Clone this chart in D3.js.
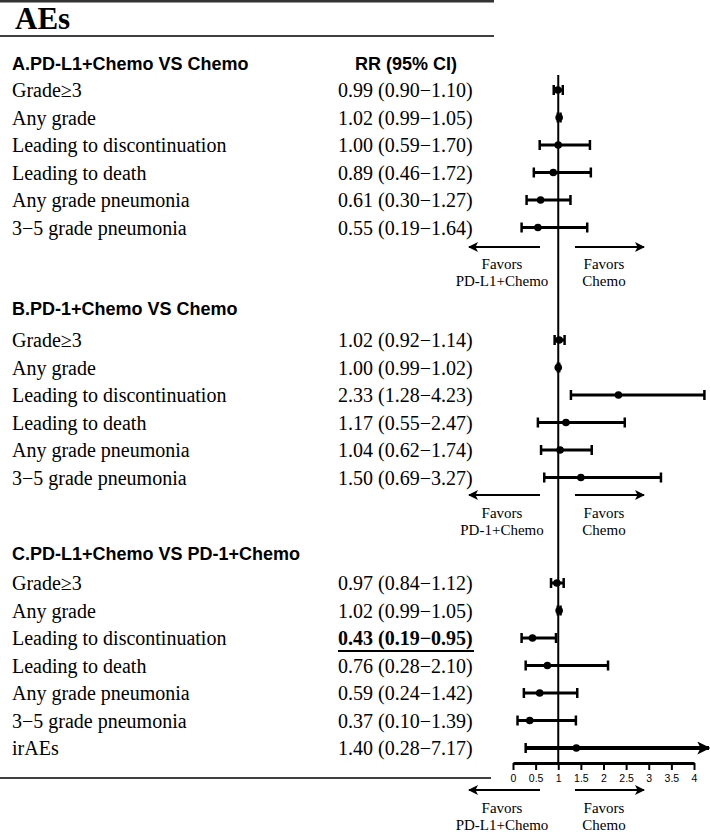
<!DOCTYPE html>
<html><head><meta charset="utf-8">
<script src="https://cdn.jsdelivr.net/npm/d3@7"></script>
<style>
body{margin:0;background:#fff;}
svg{display:block;}
.serif{font-family:"Liberation Serif","Times New Roman",serif;}
.sans{font-family:"Liberation Sans",Arial,sans-serif;}
</style></head><body>
<script>
const sectionTitles = ["A.PD-L1+Chemo VS Chemo", "B.PD-1+Chemo VS Chemo", "C.PD-L1+Chemo VS PD-1+Chemo"];
const favorsLeft = ["PD-L1+Chemo", "PD-1+Chemo", "PD-L1+Chemo"];
const favorsRight = ["Chemo", "Chemo", "Chemo"];
const labelsA = ["Grade≥3","Any grade","Leading to discontinuation","Leading to death","Any grade pneumonia","3−5 grade pneumonia"];
const rrA = [0.99,1.02,1.00,0.89,0.61,0.55];
const loA = [0.90,0.99,0.59,0.46,0.30,0.19];
const hiA = [1.10,1.05,1.70,1.72,1.27,1.64];
const labelsB = ["Grade≥3","Any grade","Leading to discontinuation","Leading to death","Any grade pneumonia","3−5 grade pneumonia"];
const rrB = [1.02,1.00,2.33,1.17,1.04,1.50];
const loB = [0.92,0.99,1.28,0.55,0.62,0.69];
const hiB = [1.14,1.02,4.23,2.47,1.74,3.27];
const labelsC = ["Grade≥3","Any grade","Leading to discontinuation","Leading to death","Any grade pneumonia","3−5 grade pneumonia","irAEs"];
const rrC = [0.97,1.02,0.43,0.76,0.59,0.37,1.40];
const loC = [0.84,0.99,0.19,0.28,0.24,0.10,0.28];
const hiC = [1.12,1.05,0.95,2.10,1.42,1.39,7.17];
const boldC = [false,false,true,false,false,false,false];
const xTicks = [0,0.5,1,1.5,2,2.5,3,3.5,4];

const W=710,H=834;
const svg=d3.select("body").append("svg").attr("width",W).attr("height",H);
const defs=svg.append("defs");
defs.append("marker").attr("id","ah").attr("viewBox","0 0 10 10").attr("refX",9).attr("refY",5)
 .attr("markerWidth",10).attr("markerHeight",10).attr("markerUnits","userSpaceOnUse").attr("orient","auto")
 .append("path").attr("d","M0,0 L10,5 L0,10 L2.5,5 Z").attr("fill","#000");
defs.append("marker").attr("id","ah2").attr("viewBox","0 0 10 10").attr("refX",9).attr("refY",5)
 .attr("markerWidth",13).attr("markerHeight",13).attr("markerUnits","userSpaceOnUse").attr("orient","auto")
 .append("path").attr("d","M0,0 L10,5 L0,10 L2.5,5 Z").attr("fill","#000");

const x=d3.scaleLinear().domain([0,4]).range([513,694]);
const fmt=d3.format(".2f");

// Title and rules
svg.append("line").attr("x1",0).attr("x2",494).attr("y1",1).attr("y2",1).attr("stroke","#333").attr("stroke-width",3);
svg.append("text").attr("class","serif").attr("x",15).attr("y",29).attr("font-size",31).attr("font-weight","bold").text("AEs");
svg.append("line").attr("x1",0).attr("x2",494).attr("y1",36).attr("y2",36).attr("stroke","#000").attr("stroke-width",1.5);
svg.append("line").attr("x1",0).attr("x2",491).attr("y1",778).attr("y2",778).attr("stroke","#000").attr("stroke-width",1.5);

svg.append("text").attr("class","sans").attr("x",406).attr("y",70).attr("font-size",18).attr("font-weight","bold")
 .attr("text-anchor","middle").text("RR (95% CI)");

const sections=[
 {title:sectionTitles[0],labels:labelsA,rr:rrA,lo:loA,hi:hiA,bold:labelsA.map(()=>false),head:70,y0:90,arrow:247,fav:[269,286],fl:favorsLeft[0],fr:favorsRight[0]},
 {title:sectionTitles[1],labels:labelsB,rr:rrB,lo:loB,hi:hiB,bold:labelsB.map(()=>false),head:315,y0:340,arrow:495,fav:[518,535],fl:favorsLeft[1],fr:favorsRight[1]},
 {title:sectionTitles[2],labels:labelsC,rr:rrC,lo:loC,hi:hiC,bold:boldC,head:560,y0:583,arrow:790,fav:[813,830],fl:favorsLeft[2],fr:favorsRight[2]}
];
const step=27.5;

// vertical reference line at RR=1
svg.append("line").attr("x1",x(1)).attr("x2",x(1)).attr("y1",75).attr("y2",763).attr("stroke","#000").attr("stroke-width",2);

sections.forEach(s=>{
  const y=d3.scalePoint().domain(d3.range(s.labels.length)).range([s.y0,s.y0+step*(s.labels.length-1)]);
  svg.append("text").attr("class","sans").attr("x",12).attr("y",s.head).attr("font-size",18).attr("font-weight","bold").text(s.title);
  const g=svg.append("g");
  s.labels.forEach((lab,i)=>{
    const yy=y(i);
    g.append("text").attr("class","serif").attr("x",12).attr("y",yy+7).attr("font-size",20).text(lab);
    g.append("text").attr("class","serif").attr("x",338).attr("y",yy+7).attr("font-size",20)
      .attr("font-weight",s.bold[i]?"bold":"normal")
      .text(`${fmt(s.rr[i])} (${fmt(s.lo[i])}−${fmt(s.hi[i])})`);
    if(s.bold[i]){
      g.append("line").attr("x1",338).attr("x2",474).attr("y1",yy+13).attr("y2",yy+13).attr("stroke","#000").attr("stroke-width",2);
    }
    const over = s.hi[i]>4.5;
    const x2 = over ? 709 : x(s.hi[i]);
    const ln=g.append("line").attr("x1",x(s.lo[i])).attr("x2",x2).attr("y1",yy).attr("y2",yy)
      .attr("stroke","#000").attr("stroke-width",over?4:3);
    if(over){ ln.attr("marker-end","url(#ah2)"); }
    g.append("line").attr("x1",x(s.lo[i])).attr("x2",x(s.lo[i])).attr("y1",yy-5).attr("y2",yy+5).attr("stroke","#000").attr("stroke-width",2.5);
    if(!over) g.append("line").attr("x1",x(s.hi[i])).attr("x2",x(s.hi[i])).attr("y1",yy-5).attr("y2",yy+5).attr("stroke","#000").attr("stroke-width",2.5);
    g.append("circle").attr("cx",x(s.rr[i])).attr("cy",yy).attr("r",3.8).attr("fill","#000");
  });
  // favors arrows
  svg.append("line").attr("x1",540).attr("x2",469).attr("y1",s.arrow).attr("y2",s.arrow).attr("stroke","#000").attr("stroke-width",2).attr("marker-end","url(#ah)");
  svg.append("line").attr("x1",575).attr("x2",644).attr("y1",s.arrow).attr("y2",s.arrow).attr("stroke","#000").attr("stroke-width",2).attr("marker-end","url(#ah)");
  svg.append("text").attr("class","serif").attr("x",502).attr("y",s.fav[0]).attr("font-size",15).attr("text-anchor","middle").text("Favors");
  svg.append("text").attr("class","serif").attr("x",502).attr("y",s.fav[1]).attr("font-size",15).attr("text-anchor","middle").text(s.fl);
  svg.append("text").attr("class","serif").attr("x",604).attr("y",s.fav[0]).attr("font-size",15).attr("text-anchor","middle").text("Favors");
  svg.append("text").attr("class","serif").attr("x",604).attr("y",s.fav[1]).attr("font-size",15).attr("text-anchor","middle").text(s.fr);
});

// x axis
const ax=svg.append("g").attr("transform","translate(0,763)")
 .call(d3.axisBottom(x).tickValues(xTicks).tickFormat(d3.format("")).tickSize(7).tickPadding(5).tickSizeOuter(0));
ax.select(".domain").attr("stroke-width",3);
ax.selectAll(".tick line").attr("stroke-width",2);
ax.selectAll(".tick text").attr("font-family","Liberation Sans, Arial, sans-serif").attr("font-size",10.5);
</script>
</body></html>
